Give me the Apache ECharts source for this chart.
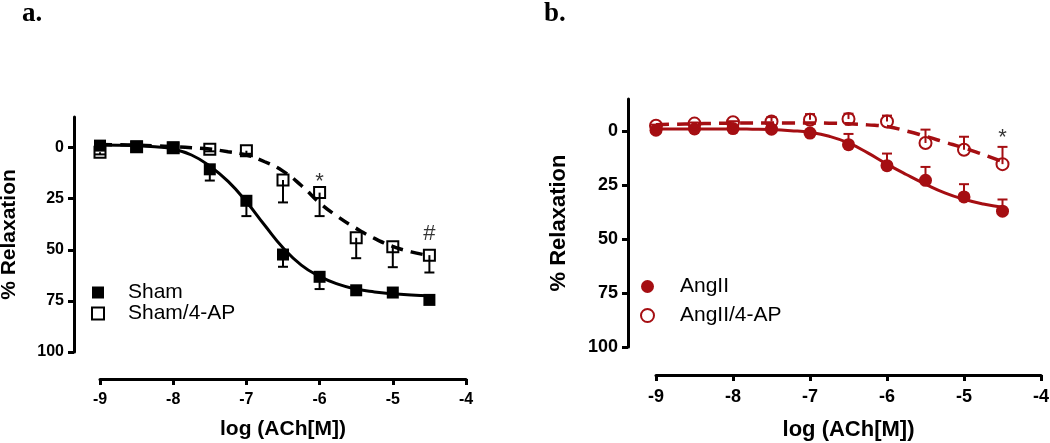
<!DOCTYPE html>
<html lang="en">
<head>
<meta charset="UTF-8">
<title>ACh relaxation</title>
<script src="https://cdn.jsdelivr.net/npm/echarts@6/dist/echarts.min.js"></script>
<style>
  html, body { margin: 0; padding: 0; background: #fff; }
</style>
</head>
<body>
<div id="main" style="width:1050px;height:443px;"></div>
<script type="text/javascript">
// log [ACh] doses
const doses = [-9, -8.5, -8, -7.5, -7, -6.5, -6, -5.5, -5, -4.5];

// panel a: means and SEM
const shamY = [-1, -0.5, 0, 10.6, 26, 52.3, 63.2, 69.8, 70.9, 74.5];
const shamSem = [0, 0, 0, 5.5, 7.5, 6, 6, 1.5, 1.5, 1];
const sham4apY = [2.3, -0.5, 0, 0.8, 1.5, 15.8, 22, 44.1, 48.5, 52.6];
const sham4apSem = [1, 0.5, 0.5, 1, 1.5, 11, 11.5, 10, 10, 8.5];

// panel b: means and SEM (bars drawn upward)
const angY = [-0.5, -1.1, -1.3, -1.0, 0.8, 6.2, 15.9, 22.7, 30.4, 37];
const angSem = [0.5, 0.5, 0.5, 0.5, 1, 5, 5.6, 6.2, 5.9, 5.4];
const ang4apY = [-2.6, -3.6, -4.2, -4.6, -5.4, -5.7, -4.6, 5.4, 8.5, 15.2];
const ang4apSem = [0.5, 0.5, 0.5, 2, 2.6, 2.5, 2.7, 6.2, 6, 8];

// fitted curves
const fitX = [-9, -8.75, -8.5, -8.25, -8, -7.75, -7.5, -7.25, -7, -6.75, -6.5, -6.25, -6, -5.75, -5.5, -5.25, -5, -4.75, -4.5];
const shamFit = [-1.3, -1.2, -1.0, -0.4, 0.7, 3.6, 9.0, 16.5, 26.5, 38, 49, 57.5, 63, 66.8, 69.2, 70.6, 71.5, 72.1, 72.5];
const sham4apFit = [-1.5, -1.4, -1.2, -0.9, -0.5, 0, 0.7, 2, 3.6, 6.9, 11.5, 18.5, 27, 33.8, 39.5, 44.4, 48.3, 51, 52.8];
const angFit = [-1.1, -1.1, -1.1, -1.1, -1.1, -1.0, -0.8, -0.3, 0.5, 2.3, 5.4, 10, 15.2, 20, 24.5, 28.5, 31.5, 33.7, 35.2];
const ang4apFit = [-3.1, -3.3, -3.5, -3.7, -3.8, -3.9, -3.9, -3.9, -3.9, -3.8, -3.5, -3.0, -2.2, -0.2, 2.3, 5.0, 7.7, 10.8, 14];

// significance marks [x, y, text]
const marksA = [[-6, 17, '*'], [-4.5, 42.3, '#']];
const marksB = [[-4.5, 3, '*']];

const yTicks = [0, 25, 50, 75, 100];

const RED = '#A50E12';
const FONT = 'Liberation Sans, Arial, sans-serif';

const chart = echarts.init(document.getElementById('main'));

function pairs(xs, ys) { return xs.map((x, i) => [x, ys[i]]); }
function errData(ys, sem, dir) { return doses.map((x, i) => [x, ys[i], ys[i] + dir * sem[i]]); }

function errSeries(data, idx, color) {
  return {
    type: 'custom', xAxisIndex: idx, yAxisIndex: idx, data: data, z: 3,
    renderItem: function (params, api) {
      const p0 = api.coord([api.value(0), api.value(1)]);
      const p1 = api.coord([api.value(0), api.value(2)]);
      return {
        type: 'group', children: [
          { type: 'line', shape: { x1: p0[0], y1: p0[1], x2: p1[0], y2: p1[1] }, style: { stroke: color, lineWidth: 2 } },
          { type: 'line', shape: { x1: p1[0] - 5, y1: p1[1], x2: p1[0] + 5, y2: p1[1] }, style: { stroke: color, lineWidth: 2 } }
        ]
      };
    }
  };
}

function fitSeries(data, idx, color, dash) {
  return {
    type: 'line', xAxisIndex: idx, yAxisIndex: idx, data: data, smooth: true,
    symbol: 'none', z: 2, silent: true,
    lineStyle: { color: color, width: dash ? 3.5 : 3, type: dash || 'solid' }
  };
}

function markSeries(data, idx) {
  return {
    type: 'scatter', xAxisIndex: idx, yAxisIndex: idx, data: data, symbolSize: 0, z: 5,
    label: { show: true, position: 'inside', formatter: p => p.value[2], fontSize: 22, color: '#000', fontFamily: FONT }
  };
}

function xAxisCfg(idx, offset, gap, size, nameSize) {
  return {
    type: 'value', gridIndex: idx, min: -9, max: -4, interval: 1, offset: offset,
    name: 'log (ACh[M])', nameLocation: 'middle', nameGap: gap,
    nameTextStyle: { fontSize: nameSize, fontWeight: 'bold', color: '#000', fontFamily: FONT },
    axisLine: { onZero: false, lineStyle: { color: '#000', width: 3 } },
    axisTick: { length: 6, lineStyle: { color: '#000', width: 3 } },
    axisLabel: { fontSize: size, fontWeight: 'bold', color: '#000', fontFamily: FONT, margin: 13 },
    splitLine: { show: false }
  };
}

function yAxisCfg(idx, offset, gap, size, nameSize) {
  return {
    type: 'value', gridIndex: idx, min: -15, max: 100, inverse: true, offset: offset,
    name: '% Relaxation', nameLocation: 'middle', nameGap: gap, nameRotate: 90,
    nameTextStyle: { fontSize: nameSize, fontWeight: 'bold', color: '#000', fontFamily: FONT },
    axisLine: { onZero: false, lineStyle: { color: '#000', width: 3 } },
    axisTick: { length: 6, customValues: yTicks, lineStyle: { color: '#000', width: 3 } },
    axisLabel: { customValues: yTicks, fontSize: size, fontWeight: 'bold', color: '#000', fontFamily: FONT, margin: 10 },
    splitLine: { show: false }
  };
}

const titleStyle = { fontFamily: 'Liberation Serif, serif', fontSize: 27, fontWeight: 'bold', color: '#000' };

chart.setOption({
  animation: false,
  title: [
    { text: 'a.', left: 22, top: 1, padding: 0, textStyle: titleStyle },
    { text: 'b.', left: 544, top: 1, padding: 0, textStyle: titleStyle }
  ],
  legend: [
    { data: ['Sham', 'Sham/4-AP'], orient: 'vertical', left: 91, top: 282, padding: 0, itemWidth: 12, itemHeight: 12, itemGap: 0,
      textStyle: { fontSize: 21, color: '#000', fontFamily: FONT, padding: [0, 0, 0, 19] } },
    { data: ['AngII', 'AngII/4-AP'], orient: 'vertical', left: 640, top: 276, padding: 0, itemWidth: 13, itemHeight: 13, itemGap: 8,
      textStyle: { fontSize: 21, color: '#000', fontFamily: FONT, padding: [0, 0, 0, 21] } }
  ],
  grid: [
    { left: 100, width: 366, top: 117, height: 235, outerBoundsMode: 'none' },
    { left: 656, width: 385, top: 99, height: 248, outerBoundsMode: 'none' }
  ],
  xAxis: [xAxisCfg(0, 27, 40, 16, 21), xAxisCfg(1, 28, 44, 18, 22)],
  yAxis: [yAxisCfg(0, 26, 54, 16, 21), yAxisCfg(1, 28, 58, 18, 22)],
  series: [
    fitSeries(pairs(fitX, shamFit), 0, '#000', null),
    fitSeries(pairs(fitX, sham4apFit), 0, '#000', [12, 8]),
    errSeries(errData(shamY, shamSem, 1), 0, '#000'),
    errSeries(errData(sham4apY, sham4apSem, 1), 0, '#000'),
    { name: 'Sham', type: 'scatter', xAxisIndex: 0, yAxisIndex: 0, data: pairs(doses, shamY), symbol: 'rect', symbolSize: 12, z: 4,
      itemStyle: { color: '#000', opacity: 1 } },
    { name: 'Sham/4-AP', type: 'scatter', xAxisIndex: 0, yAxisIndex: 0, data: pairs(doses, sham4apY), symbol: 'rect', symbolSize: 11, z: 4,
      itemStyle: { color: 'rgba(255,255,255,0)', borderColor: '#000', borderWidth: 2, opacity: 1 } },
    markSeries(marksA, 0),

    fitSeries(pairs(fitX, angFit), 1, RED, null),
    fitSeries(pairs(fitX, ang4apFit), 1, RED, [13, 8]),
    errSeries(errData(angY, angSem, -1), 1, RED),
    errSeries(errData(ang4apY, ang4apSem, -1), 1, RED),
    { name: 'AngII', type: 'scatter', xAxisIndex: 1, yAxisIndex: 1, data: pairs(doses, angY), symbol: 'circle', symbolSize: 13, z: 4,
      itemStyle: { color: RED, opacity: 1 } },
    { name: 'AngII/4-AP', type: 'scatter', xAxisIndex: 1, yAxisIndex: 1, data: pairs(doses, ang4apY), symbol: 'circle', symbolSize: 12, z: 4,
      itemStyle: { color: 'rgba(255,255,255,0)', borderColor: RED, borderWidth: 2, opacity: 1 } },
    markSeries(marksB, 1)
  ]
});
</script>
</body>
</html>
